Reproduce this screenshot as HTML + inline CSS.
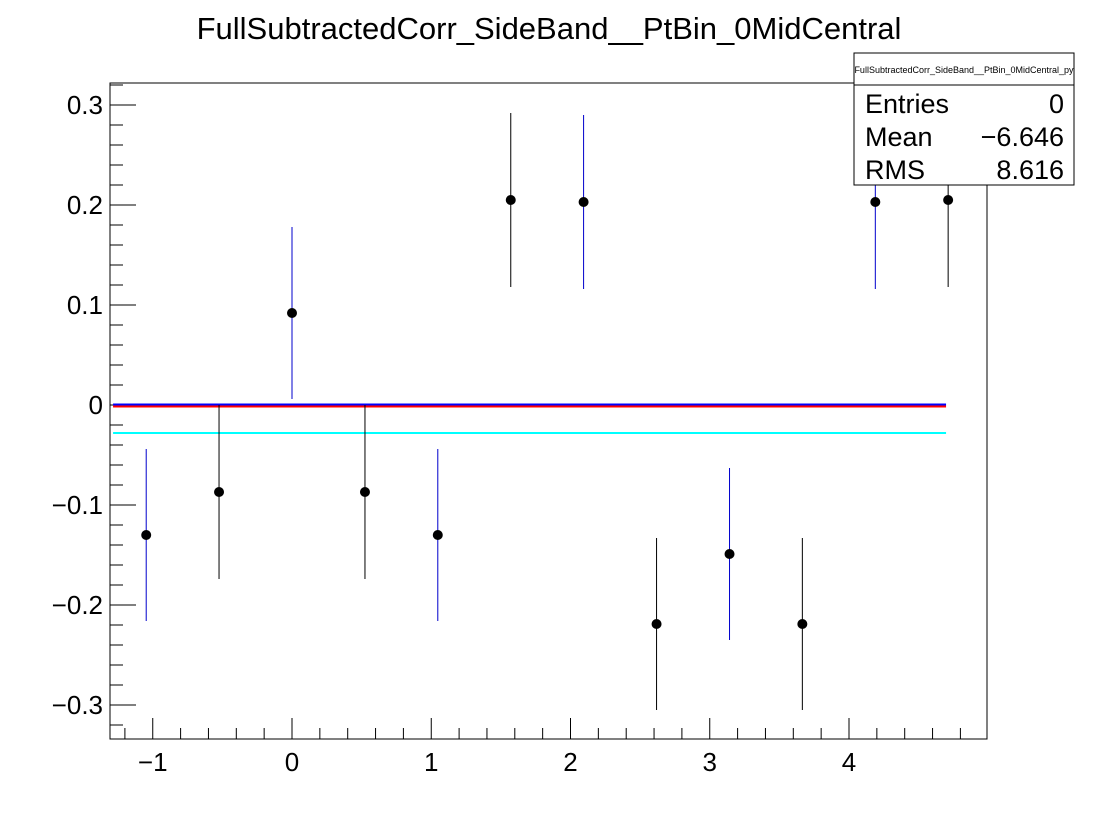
<!DOCTYPE html>
<html><head><meta charset="utf-8"><style>
body{margin:0;background:#fff;}
svg{display:block;font-family:"Liberation Sans",sans-serif;}
</style></head><body>
<svg id="c" width="1096" height="822" viewBox="0 0 1096 822">
<rect width="1096" height="822" fill="#fff"/>
<text x="549" y="39" font-size="31" text-anchor="middle">FullSubtractedCorr_SideBand__PtBin_0MidCentral</text>
<rect x="110" y="83" width="877" height="656" fill="none" stroke="#000" stroke-width="1"/>
<g id="axes"></g>
<g id="marks"></g>
<g>
<rect x="854" y="53" width="220" height="132" fill="#fff" stroke="#000"/>
<line x1="854" y1="85" x2="1074" y2="85" stroke="#000"/>
<text x="964" y="73" font-size="9" text-anchor="middle">FullSubtractedCorr_SideBand__PtBin_0MidCentral_py</text>
<text x="865" y="113" font-size="27">Entries</text><text x="1064" y="113" font-size="27" text-anchor="end">0</text>
<text x="865" y="146" font-size="27">Mean</text><text x="1064" y="146" font-size="27" text-anchor="end">−6.646</text>
<text x="865" y="179" font-size="27">RMS</text><text x="1064" y="179" font-size="27" text-anchor="end">8.616</text>
</g>
</svg>
<script>
const categories=[-1.047,-0.524,0,0.524,1.047,1.571,2.094,2.618,3.142,3.665,4.189,4.712];
const values=[-0.13,-0.087,0.092,-0.087,-0.13,0.205,0.203,-0.219,-0.149,-0.219,0.203,0.205];
const errors=[0.086,0.087,0.086,0.087,0.086,0.087,0.087,0.086,0.086,0.086,0.087,0.087];
const xTicks=[-1,0,1,2,3,4];
const yTicks=[-0.3,-0.2,-0.1,0,0.1,0.2,0.3];
const fitLines=[{v:-0.0015,c:"#ff0000"},{v:0.0005,c:"#0000ff"},{v:-0.028,c:"#00ffff"}];
const lineRange=[-1.285,4.697];
const NS="http://www.w3.org/2000/svg";
const X=v=>292+v*139.25, Y=v=>405-v*1000;
function mk(t,a,p){const e=document.createElementNS(NS,t);for(const k in a)e.setAttribute(k,a[k]);p.appendChild(e);return e;}
const ax=document.getElementById('axes'), mg=document.getElementById('marks');
for(let v=-1.2;v<=4.95;v+=0.2){const x=X(v);const maj=Math.abs(v-Math.round(v))<1e-6;
 const l=mk('line',{x1:x,y1:739,x2:x,y2:maj?718:728,stroke:'#000'},ax);
 
 }
xTicks.forEach(v=>{const t=mk('text',{x:X(v),y:771,'font-size':26,'text-anchor':'middle'},ax);t.textContent=v<0?'−'+Math.abs(v):v;
 
 });
for(let i=-16;i<=16;i++){const v=i*0.02;const y=Y(v);if(y<83||y>739)continue;const maj=i%5===0;
 const l=mk('line',{x1:110,y1:y,x2:maj?136:123,y2:y,stroke:'#000'},ax);
 
 }
yTicks.forEach(v=>{const t=mk('text',{x:103,y:Y(v)+9,'font-size':26,'text-anchor':'end'},ax);t.textContent=v<0?'−'+Math.abs(v).toFixed(1):(v===0?'0':v.toFixed(1));
 
 });
fitLines.forEach(f=>{const l=mk('line',{x1:X(lineRange[0]),x2:X(lineRange[1]),y1:Y(f.v),y2:Y(f.v),stroke:f.c,'stroke-width':2},mg);
 
 });
categories.forEach((c,i)=>{const x=X(c);const col=i%2===0?'#0000cc':'#000';
 const e=mk('line',{x1:x,x2:x,y1:Y(values[i]+errors[i]),y2:Y(values[i]-errors[i]),stroke:col,'stroke-width':1},mg);
 
 
 const p=mk('circle',{cx:x,cy:Y(values[i]),r:5,fill:'#000'},mg);
 
 });
</script>
</body></html>
